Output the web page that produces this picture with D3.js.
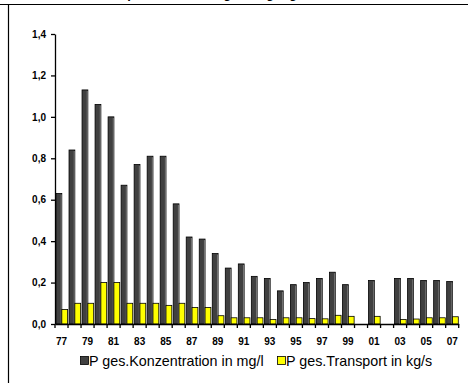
<!DOCTYPE html>
<html>
<head>
<meta charset="utf-8">
<script src="https://cdn.jsdelivr.net/npm/d3@7"></script>
<style>
  body { margin: 0; background: #fff; }
  svg { display: block; font-family: "Liberation Sans", Arial, sans-serif; }
</style>
</head>
<body>
<div id="chart"></div>
<script>
(function () {
  // years 1977 - 2007, labels two-digit
  const years = ["77","78","79","80","81","82","83","84","85","86","87","88","89","90","91","92",
    "93","94","95","96","97","98","99","00","01","02","03","04","05","06","07"];
  const konzentration = [0.63,0.84,1.13,1.06,1.00,0.67,0.77,0.81,0.81,0.58,0.42,0.41,0.34,0.27,0.29,0.23,
    0.22,0.16,0.19,0.20,0.22,0.25,0.19,null,0.21,null,0.22,0.22,0.21,0.21,0.205];
  const transport = [0.07,0.10,0.10,0.20,0.20,0.10,0.10,0.10,0.09,0.10,0.08,0.08,0.04,0.03,0.03,0.03,
    0.022,0.03,0.03,0.026,0.025,0.042,0.037,null,0.037,null,0.022,0.024,0.03,0.03,0.035];
  const yTicks = [0,0.2,0.4,0.6,0.8,1.0,1.2,1.4];
  const seriesNames = ["P ges.Konzentration in mg/l", "P ges.Transport in kg/s"];
  const title = "Phosphorentwicklung, Jahrgang Stotzen 1977 - 2007";

  const W = 468, H = 383;
  const margin = { left: 55, right: 9.3, top: 34, bottom: 59 };

  const svg = d3.select("#chart").append("svg")
    .attr("width", W).attr("height", H);

  // frame (left and top border of the chart area)
  svg.append("line").attr("x1", 0).attr("x2", W).attr("y1", 4.5).attr("y2", 4.5)
    .attr("stroke", "#000").attr("stroke-width", 1.2);
  svg.append("line").attr("x1", 8.5).attr("x2", 8.5).attr("y1", 4.5).attr("y2", H)
    .attr("stroke", "#000").attr("stroke-width", 1.2);

  // title, mostly cut off above the picture
  svg.append("text")
    .attr("x", 258).attr("y", -2)
    .attr("text-anchor", "middle")
    .style("font-size", "13px").style("font-weight", "bold")
    .text(title);

  const x = d3.scaleBand()
    .domain(years)
    .range([margin.left, W - margin.right])
    .padding(0);

  const sub = d3.scaleBand()
    .domain(["k", "t"])
    .range([1, x.bandwidth() - 0.4])
    .padding(0);

  const y = d3.scaleLinear()
    .domain([0, 1.4])
    .range([H - margin.bottom, margin.top]);

  const fmt = d => d3.format(".1f")(d).replace(".", ",");

  // y axis
  const yAxis = svg.append("g")
    .attr("transform", `translate(${margin.left},0)`)
    .call(d3.axisLeft(y).tickValues(yTicks).tickFormat(fmt).tickSize(4).tickSizeOuter(0).tickPadding(5));
  yAxis.select(".domain").attr("stroke", "#000").attr("stroke-width", 1.3);
  yAxis.selectAll(".tick line").attr("stroke", "#000").attr("stroke-width", 1.3);
  yAxis.selectAll(".tick text")
    .style("font-size", "10px").style("font-weight", "bold").attr("fill", "#000");

  // bars
  const rows = years.map((yr, i) => ({ yr, k: konzentration[i], t: transport[i] }));

  const groups = svg.append("g").selectAll("g")
    .data(rows).enter().append("g")
    .attr("transform", d => `translate(${x(d.yr)},0)`);

  const dark = groups.filter(d => d.k != null);
  dark.append("rect")
    .attr("x", sub("k"))
    .attr("width", sub.bandwidth())
    .attr("y", d => y(d.k))
    .attr("height", d => y(0) - y(d.k))
    .attr("fill", "#404040")
    .attr("stroke", "#000").attr("stroke-width", 0.8);
  // light right edge of the dark bars
  dark.append("line")
    .attr("x1", sub("k") + sub.bandwidth() - 0.6).attr("x2", sub("k") + sub.bandwidth() - 0.6)
    .attr("y1", d => y(d.k) + 1).attr("y2", y(0))
    .attr("stroke", "#8a8a8a").attr("stroke-width", 0.8);

  groups.filter(d => d.t != null).append("rect")
    .attr("x", sub("t"))
    .attr("width", sub.bandwidth())
    .attr("y", d => y(d.t))
    .attr("height", d => y(0) - y(d.t))
    .attr("fill", "#ffff00")
    .attr("stroke", "#000").attr("stroke-width", 0.8);

  // x axis: line, ticks at category boundaries, labels every second year
  const xAxis = svg.append("g")
    .attr("transform", `translate(0,${y(0)})`)
    .call(d3.axisBottom(x).tickSize(0).tickPadding(14)
      .tickFormat((d, i) => i % 2 === 0 ? d : ""));
  xAxis.select(".domain").attr("stroke", "#000").attr("stroke-width", 1.3);
  xAxis.selectAll(".tick text")
    .style("font-size", "10px").style("font-weight", "bold").attr("fill", "#000");

  const bounds = years.map(d => x(d)).concat([x(years[years.length - 1]) + x.bandwidth()]);
  xAxis.selectAll(".bound").data(bounds).enter().append("line")
    .attr("class", "bound")
    .attr("x1", d => d).attr("x2", d => d)
    .attr("y1", 0).attr("y2", 4)
    .attr("stroke", "#000").attr("stroke-width", 1.3);

  // legend
  const legend = svg.append("g").attr("transform", "translate(80,361)");
  const colors = ["#404040", "#ffff00"];
  const lx = [0, 197];
  seriesNames.forEach((name, i) => {
    const g = legend.append("g").attr("transform", `translate(${lx[i]},0)`);
    g.append("rect").attr("x", 0.5).attr("y", -4.5).attr("width", 8).attr("height", 8)
      .attr("fill", colors[i]).attr("stroke", "#000").attr("stroke-width", 0.8);
    g.append("text").attr("x", 9).attr("y", 5)
      .style("font-size", "14.3px").attr("fill", "#000").text(name);
  });
})();
</script>
</body>
</html>
